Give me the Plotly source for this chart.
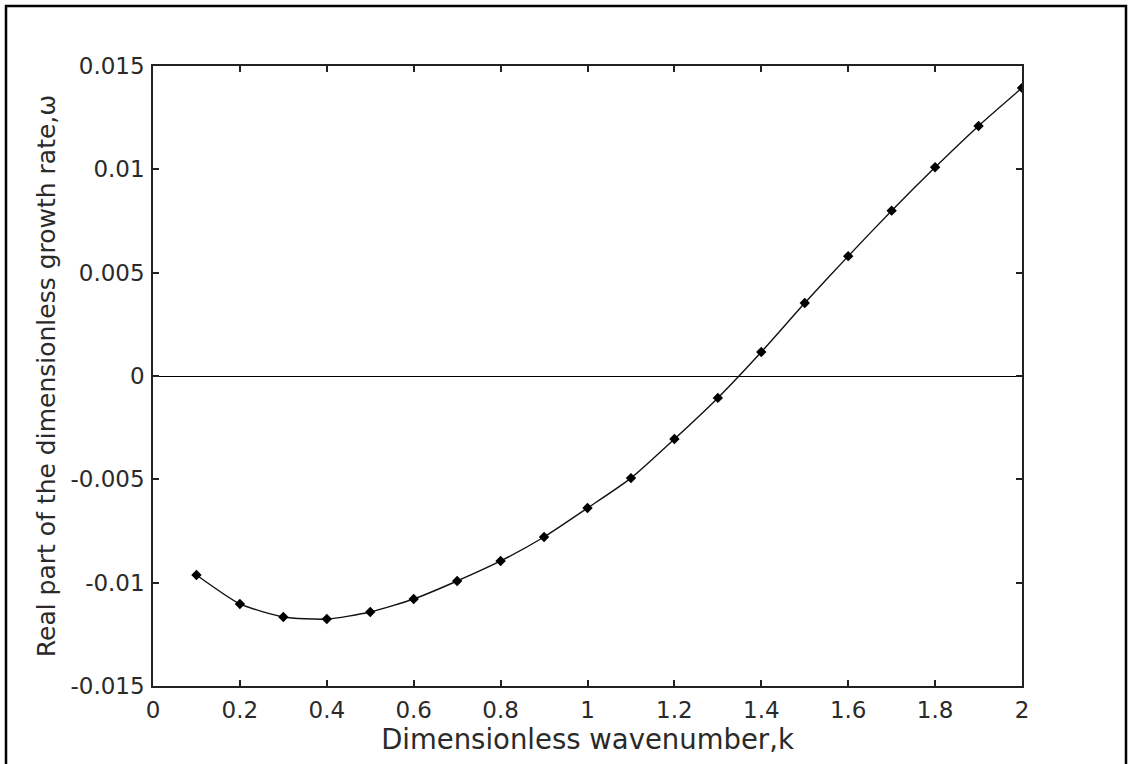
import plotly.graph_objects as go

k_values = [0.1, 0.2, 0.3, 0.4, 0.5, 0.6, 0.7, 0.8, 0.9, 1.0,
            1.1, 1.2, 1.3, 1.4, 1.5, 1.6, 1.7, 1.8, 1.9, 2.0]
omega_values = [-0.00963, -0.01103, -0.01166, -0.01176, -0.01142, -0.01079,
                -0.00992, -0.00895, -0.00779, -0.00639, -0.00494, -0.00305,
                -0.00106, 0.00116, 0.00353, 0.00580, 0.00800, 0.01010,
                0.01210, 0.01394]

x_ticks = [0, 0.2, 0.4, 0.6, 0.8, 1.0, 1.2, 1.4, 1.6, 1.8, 2.0]
x_tick_labels = ["0", "0.2", "0.4", "0.6", "0.8", "1", "1.2", "1.4", "1.6", "1.8", "2"]
y_ticks = [-0.015, -0.01, -0.005, 0, 0.005, 0.01, 0.015]
y_tick_labels = ["-0.015", "-0.01", "-0.005", "0", "0.005", "0.01", "0.015"]

FONT = "DejaVu Sans"

fig = go.Figure()
fig.add_trace(go.Scatter(
    x=k_values, y=omega_values, mode="lines+markers",
    line=dict(color="#111", width=1.4, shape="spline", smoothing=0.6),
    marker=dict(symbol="diamond", size=8, color="black"),
    showlegend=False,
))

W, H = 1128, 764
L, R, T, B = 153, 1022, 66, 686
pw, ph = R - L, B - T

def px_x(p):
    return (p - L) / pw

def px_y(p):
    return (B - p) / ph

fig.update_layout(
    width=W, height=H,
    margin=dict(l=L, r=W - R, t=T, b=H - B, pad=0),
    paper_bgcolor="white", plot_bgcolor="white",
    font=dict(family=FONT, color="#2a2a2a", size=23),
    xaxis=dict(
        range=[0, 2], tickvals=x_ticks, ticktext=x_tick_labels,
        ticks="inside", ticklen=6, tickcolor="#222", tickwidth=1.5,
        showline=True, linecolor="#222", linewidth=1.5, mirror="ticks",
        showgrid=False, zeroline=False,
        ticklabelstandoff=3,
        title=dict(text="Dimensionless wavenumber,k", font=dict(size=27.5, family=FONT), standoff=2),
    ),
    yaxis=dict(
        range=[-0.015, 0.015], tickvals=y_ticks, ticktext=y_tick_labels,
        ticks="inside", ticklen=6, tickcolor="#222", tickwidth=1.5,
        showline=True, linecolor="#222", linewidth=1.5, mirror="ticks",
        showgrid=False, zeroline=True, zerolinecolor="black", zerolinewidth=1.2,
        ticklabelstandoff=2,
        title=dict(text="Real part of the dimensionless growth rate,ω", font=dict(size=25, family=FONT), standoff=8),
    ),
    shapes=[
        dict(type="rect", xref="paper", yref="paper",
             x0=px_x(6), x1=px_x(1126), y0=px_y(780), y1=px_y(6),
             line=dict(color="black", width=2.5), fillcolor="rgba(0,0,0,0)", layer="below"),
    ],
)

fig.write_html("out.html")
